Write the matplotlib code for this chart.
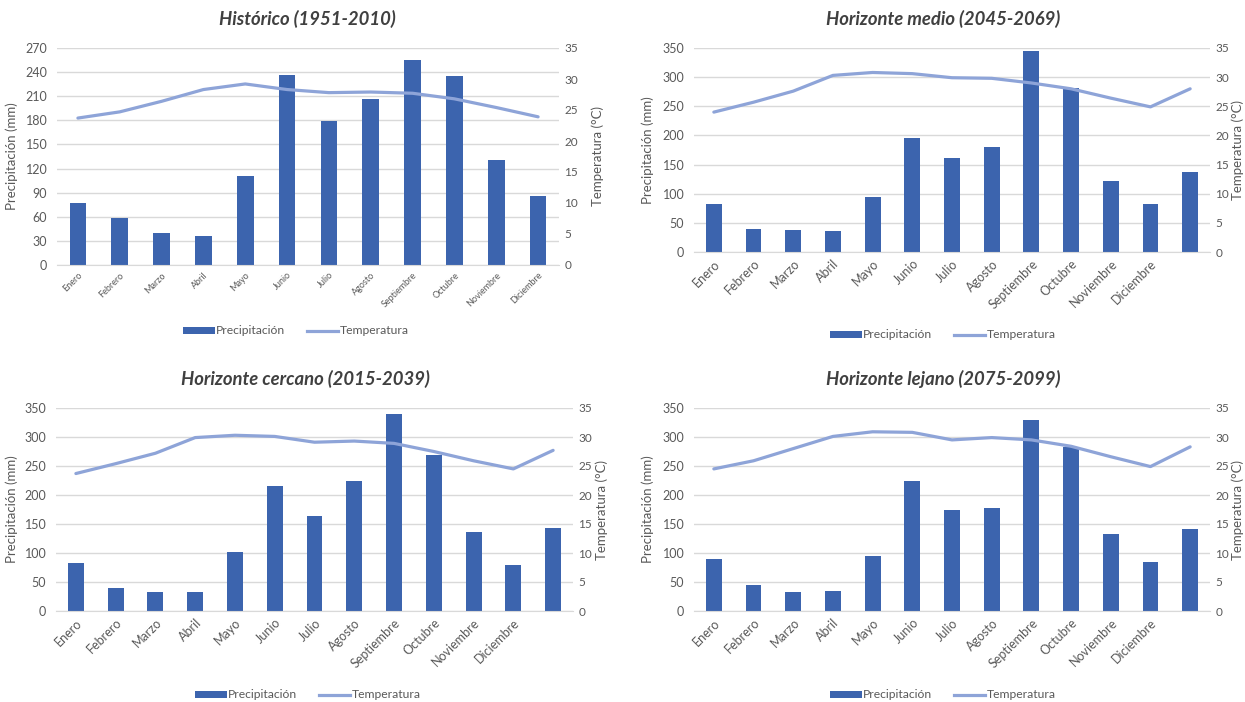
import matplotlib
matplotlib.use("Agg")
import matplotlib.pyplot as plt
from matplotlib.patches import Patch
from matplotlib.lines import Line2D

plt.rcParams["font.family"] = ["Lato", "DejaVu Sans"]

MESES = ["Enero", "Febrero", "Marzo", "Abril", "Mayo", "Junio", "Julio",
         "Agosto", "Septiembre", "Octubre", "Noviembre", "Diciembre"]
# the three horizon charts carry a 13th column with no label
MESES_13 = MESES + [""]

# Histórico (1951-2010)
hist_prec = [77, 59, 40, 36, 111, 236, 179, 207, 255, 235, 131, 86]
hist_temp = [23.7, 24.7, 26.4, 28.3, 29.2, 28.3, 27.8, 27.9, 27.7, 26.8, 25.4, 23.9]

# Horizonte medio (2045-2069)
medio_prec = [83, 39, 37, 36, 95, 195, 161, 180, 344, 281, 122, 82, 138]
medio_temp = [24.0, 25.7, 27.6, 30.3, 30.8, 30.6, 29.9, 29.8, 29.0, 28.0, 26.4, 24.9, 28.0]

# Horizonte cercano (2015-2039)
cerc_prec = [82, 40, 33, 32, 102, 216, 163, 225, 340, 269, 137, 79, 143]
cerc_temp = [23.7, 25.4, 27.2, 29.9, 30.3, 30.1, 29.1, 29.3, 28.9, 27.5, 25.9, 24.5, 27.7]

# Horizonte lejano (2075-2099)
lej_prec = [89, 44, 33, 34, 95, 224, 175, 177, 330, 282, 132, 84, 142]
lej_temp = [24.5, 25.9, 28.0, 30.1, 30.9, 30.8, 29.5, 29.9, 29.5, 28.4, 26.6, 24.9, 28.3]

W, H = 1245, 702
BAR_C = "#3C64AE"
LINE_C = "#8EA4D8"
TXT_C = "#595959"
GRID_C = "#D9D9D9"

fig = plt.figure(figsize=(W / 100, H / 100), dpi=100)


def px_rect(l, t, r, b):
    return [l / W, 1 - b / H, (r - l) / W, (b - t) / H]


def panel(rect, title, title_xy, cats, prec, temp, pmax, pstep,
          legend_xy, ylab_x, xtick_fs):
    ax = fig.add_axes(px_rect(*rect))
    n = len(cats)
    x = list(range(n))
    ax.bar(x, prec, width=0.4, color=BAR_C, zorder=2)
    ax.set_xlim(-0.5, n - 0.5)
    ax.set_ylim(0, pmax)
    ax.set_yticks(range(0, pmax + 1, pstep))
    ax.grid(axis="y", color=GRID_C, linewidth=1.0, zorder=0)
    ax.set_axisbelow(True)
    for s in ("top", "left", "right"):
        ax.spines[s].set_visible(False)
    ax.spines["bottom"].set_color(GRID_C)
    ax.tick_params(axis="y", length=0, pad=7, labelsize=9, labelcolor=TXT_C)
    ax.tick_params(axis="x", length=0, pad=4, labelsize=xtick_fs, labelcolor=TXT_C)
    ax.set_xticks(x)
    ax.set_xticklabels(cats, rotation=45, ha="right", rotation_mode="anchor")

    ax2 = ax.twinx()
    ax2.plot(x, temp, color=LINE_C, linewidth=2.3, solid_capstyle="round", zorder=3)
    ax2.set_ylim(0, 35)
    ax2.set_yticks(range(0, 36, 5))
    for s in ax2.spines.values():
        s.set_visible(False)
    ax2.tick_params(axis="y", length=0, pad=4, labelsize=8.5, labelcolor=TXT_C)

    l, t, r, b = rect
    yc = 1 - ((t + b) / 2) / H
    fig.text(ylab_x[0] / W, yc, "Precipitación (mm)", rotation=90,
             ha="center", va="center", fontsize=9.5, color=TXT_C)
    fig.text(ylab_x[1] / W, yc, "Temperatura (°C)", rotation=90,
             ha="center", va="center", fontsize=9.5, color=TXT_C)
    fig.text(title_xy[0] / W, 1 - title_xy[1] / H, title, ha="center", va="center",
             fontsize=13.3, fontweight="bold", fontstyle="italic", color="#404040")

    handles = [Patch(facecolor=BAR_C, label="Precipitación"),
               Line2D([0], [0], color=LINE_C, linewidth=2.3, label="Temperatura")]
    fig.legend(handles=handles, loc="center", ncol=2, frameon=False,
               bbox_to_anchor=(legend_xy[0] / W, 1 - legend_xy[1] / H),
               fontsize=8.7, labelcolor=TXT_C, handlelength=2.6, handleheight=0.55,
               handletextpad=0.1, columnspacing=1.8)
    return ax


panel((57, 48, 559, 265), "Histórico (1951-2010)", (307, 19), MESES,
      hist_prec, hist_temp, 270, 30, (296, 331), (12, 598), 6.5)
panel((694, 48, 1210, 252), "Horizonte medio (2045-2069)", (943, 19), MESES_13,
      medio_prec, medio_temp, 350, 50, (943, 335), (648, 1238), 9)
panel((56, 408, 573, 611), "Horizonte cercano (2015-2039)", (305, 379), MESES_13,
      cerc_prec, cerc_temp, 350, 50, (308, 695), (12, 602), 9)
panel((694, 408, 1210, 611), "Horizonte lejano (2075-2099)", (943, 379), MESES_13,
      lej_prec, lej_temp, 350, 50, (943, 695), (648, 1238), 9)

fig.savefig("out.png", dpi=100, facecolor="white")
